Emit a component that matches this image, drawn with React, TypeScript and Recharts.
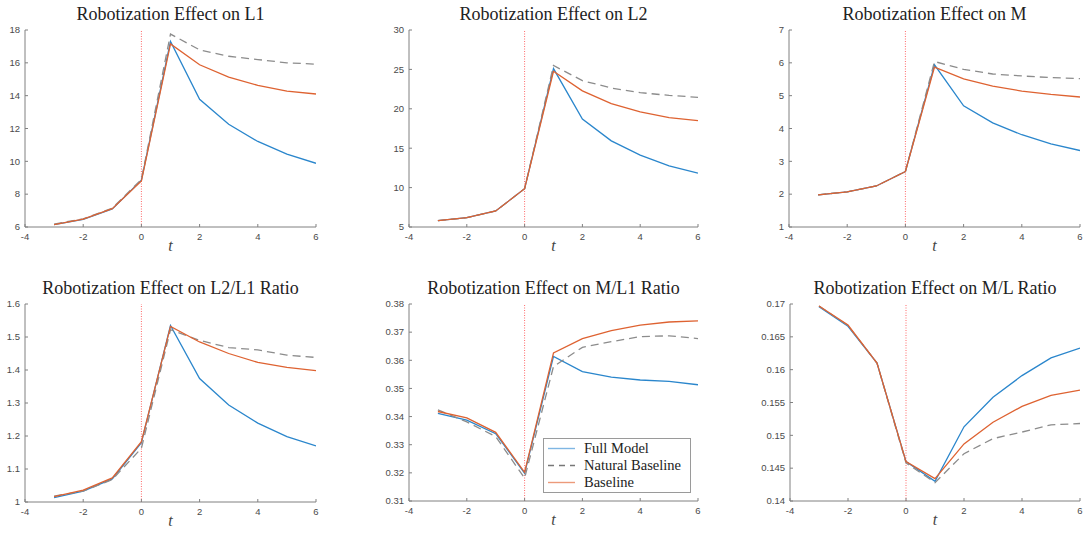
import React from 'react';
import { LineChart, Line, XAxis, YAxis, ReferenceLine, Legend } from 'recharts';

// horizon (periods relative to the shock)
const tValues = [-3, -2, -1, 0, 1, 2, 3, 4, 5, 6];
const xTicks = [-4, -2, 0, 2, 4, 6];

const l1Full = [6.15, 6.47, 7.1, 8.85, 17.3, 13.78, 12.26, 11.21, 10.44, 9.88];
const l1Natural = [6.18, 6.5, 7.15, 8.9, 17.75, 16.79, 16.4, 16.2, 16.0, 15.92];
const l1Baseline = [6.15, 6.48, 7.12, 8.8, 17.15, 15.88, 15.13, 14.63, 14.28, 14.1];
const l1Ticks = [6, 8, 10, 12, 14, 16, 18];

const l2Full = [5.8, 6.18, 7.03, 9.86, 25.1, 18.7, 15.93, 14.12, 12.77, 11.84];
const l2Natural = [5.8, 6.18, 7.03, 9.86, 25.5, 23.57, 22.64, 22.05, 21.7, 21.46];
const l2Baseline = [5.8, 6.18, 7.03, 9.86, 24.76, 22.27, 20.66, 19.6, 18.89, 18.5];
const l2Ticks = [5, 10, 15, 20, 25, 30];

const mFull = [1.98, 2.07, 2.25, 2.69, 5.94, 4.69, 4.17, 3.81, 3.53, 3.33];
const mNatural = [1.98, 2.07, 2.25, 2.69, 6.04, 5.8, 5.66, 5.6, 5.55, 5.52];
const mBaseline = [1.98, 2.07, 2.25, 2.69, 5.87, 5.51, 5.29, 5.14, 5.04, 4.96];
const mTicks = [1, 2, 3, 4, 5, 6, 7];

const l2l1Full = [1.013, 1.033, 1.07, 1.18, 1.535, 1.374, 1.294, 1.239, 1.198, 1.17];
const l2l1Natural = [1.018, 1.033, 1.068, 1.163, 1.522, 1.49, 1.468, 1.461, 1.445, 1.438];
const l2l1Baseline = [1.016, 1.036, 1.073, 1.183, 1.532, 1.485, 1.45, 1.423, 1.408, 1.398];
const l2l1Ticks = [1, 1.1, 1.2, 1.3, 1.4, 1.5, 1.6];

const ml1Full = [0.3411, 0.3387, 0.3339, 0.3199, 0.3614, 0.356, 0.354, 0.353, 0.3525, 0.3513];
const ml1Natural = [0.3424, 0.3381, 0.3329, 0.3181, 0.3578, 0.3646, 0.3666, 0.3684, 0.3687, 0.3677];
const ml1Baseline = [0.3418, 0.3395, 0.3344, 0.3202, 0.3626, 0.3677, 0.3705, 0.3725, 0.3736, 0.374];
const ml1Ticks = [0.31, 0.32, 0.33, 0.34, 0.35, 0.36, 0.37, 0.38];

const mlFull = [0.1696, 0.1666, 0.161, 0.146, 0.143, 0.1513, 0.1558, 0.1591, 0.1618, 0.1633];
const mlNatural = [0.1697, 0.1667, 0.161, 0.1458, 0.1428, 0.1472, 0.1495, 0.1505, 0.1516, 0.1518];
const mlBaseline = [0.1697, 0.1668, 0.161, 0.146, 0.1434, 0.1487, 0.152, 0.1544, 0.1561, 0.1569];
const mlTicks = [0.14, 0.145, 0.15, 0.155, 0.16, 0.165, 0.17];

const titles = [
  'Robotization Effect on L1',
  'Robotization Effect on L2',
  'Robotization Effect on M',
  'Robotization Effect on L2/L1 Ratio',
  'Robotization Effect on M/L1 Ratio',
  'Robotization Effect on M/L Ratio',
];
const seriesNames = ['Full Model', 'Natural Baseline', 'Baseline'];

const BLUE = '#2a86cc';
const ORANGE = '#de6231';
const GRAY = '#8c8c8c';
const AXIS = '#808080';
const TICK_TEXT = '#4a4a4a';
const SANS = '"Liberation Sans", Arial, sans-serif';
const SERIF = '"Liberation Serif", "Times New Roman", serif';
const Y_AXIS_W = 40;

// plot-area boxes in page pixels
const boxes = [
  { x: 25, y: 30, w: 291, h: 197 },
  { x: 409, y: 30, w: 289, h: 197 },
  { x: 789, y: 30, w: 291, h: 197 },
  { x: 25, y: 304, w: 291, h: 198 },
  { x: 409, y: 304, w: 289, h: 197 },
  { x: 790, y: 304, w: 290, h: 197 },
];

const panelData = [
  { full: l1Full, natural: l1Natural, baseline: l1Baseline, ticks: l1Ticks },
  { full: l2Full, natural: l2Natural, baseline: l2Baseline, ticks: l2Ticks },
  { full: mFull, natural: mNatural, baseline: mBaseline, ticks: mTicks },
  { full: l2l1Full, natural: l2l1Natural, baseline: l2l1Baseline, ticks: l2l1Ticks },
  { full: ml1Full, natural: ml1Natural, baseline: ml1Baseline, ticks: ml1Ticks },
  { full: mlFull, natural: mlNatural, baseline: mlBaseline, ticks: mlTicks },
];

const YTick = (props: any) => {
  const { x, y, payload } = props;
  return (
    <g>
      <line x1={x + 5} x2={x + 8} y1={y} y2={y} stroke={AXIS} />
      <text x={x} y={y + 3.3} textAnchor="end" fontSize={9.5} fontFamily={SANS} fill={TICK_TEXT}>
        {payload.value}
      </text>
    </g>
  );
};

const XTick = (props: any) => {
  const { x, y, payload } = props;
  return (
    <g>
      <line x1={x} x2={x} y1={y - 4} y2={y - 7} stroke={AXIS} />
      <text x={x} y={y + 9.3} textAnchor="middle" fontSize={9.5} fontFamily={SANS} fill={TICK_TEXT}>
        {payload.value}
      </text>
    </g>
  );
};

const LegendBox = () => {
  const rows = [
    { name: seriesNames[0], color: '#7fb6e3', dash: undefined },
    { name: seriesNames[1], color: '#777', dash: '6 5' },
    { name: seriesNames[2], color: '#ec9a7a', dash: undefined },
  ];
  return (
    <div style={{ position: 'relative', width: 148, height: 55, border: '1px solid #9a9a9a', background: '#fff', boxSizing: 'border-box' }}>
      {rows.map((r, i) => (
        <div key={r.name} style={{ position: 'absolute', left: 0, top: 1 + i * 17, height: 17, display: 'flex', alignItems: 'center' }}>
          <svg width={40} height={17} style={{ display: 'block' }}>
            <line x1={4} x2={31} y1={8.5} y2={8.5} stroke={r.color} strokeWidth={1.4} strokeDasharray={r.dash} />
          </svg>
          <span style={{ fontFamily: SERIF, fontSize: 14.5, color: '#222', lineHeight: '17px' }}>{r.name}</span>
        </div>
      ))}
    </div>
  );
};

const Panel = ({ index }: { index: number }) => {
  const box = boxes[index];
  const d = panelData[index];
  const rows = tValues.map((t, i) => ({ t, full: d.full[i], natural: d.natural[i], baseline: d.baseline[i] }));
  const top = 10;
  const right = 12;
  const xAxisH = 30;
  const width = Y_AXIS_W + box.w + right;
  const height = top + box.h + xAxisH;
  return (
    <>
      <div style={{ position: 'absolute', left: box.x, width: box.w, top: box.y - 26, height: 20, lineHeight: '20px', textAlign: 'center', fontFamily: SERIF, fontSize: 18, color: '#222', whiteSpace: 'nowrap' }}>
        {titles[index]}
      </div>
      <div style={{ position: 'absolute', left: box.x, width: box.w, top: box.y + box.h + 10, height: 18, lineHeight: '18px', textAlign: 'center', fontFamily: SERIF, fontStyle: 'italic', fontSize: 16, color: '#444' }}>
        t
      </div>
      <div style={{ position: 'absolute', left: box.x - Y_AXIS_W, top: box.y - top }}>
        <LineChart width={width} height={height} data={rows} margin={{ top, right, left: 0, bottom: 0 }}>
          <XAxis
            dataKey="t"
            type="number"
            domain={[-4, 6]}
            ticks={xTicks}
            height={xAxisH}
            tickSize={0}
            tickMargin={4}
            tickLine={false}
            axisLine={{ stroke: AXIS }}
            tick={<XTick />}
            allowDataOverflow
          />
          <YAxis
            type="number"
            domain={[d.ticks[0], d.ticks[d.ticks.length - 1]]}
            ticks={d.ticks}
            width={Y_AXIS_W}
            tickSize={0}
            tickMargin={5}
            tickLine={false}
            axisLine={{ stroke: AXIS }}
            tick={<YTick />}
            allowDataOverflow
          />
          <ReferenceLine x={0} stroke="#ff6a6a" strokeDasharray="1 1.5" strokeWidth={1} />
          <Line type="linear" dataKey="full" name={seriesNames[0]} stroke={BLUE} strokeWidth={1.3} dot={false} isAnimationActive={false} />
          <Line type="linear" dataKey="natural" name={seriesNames[1]} stroke={GRAY} strokeWidth={1.3} strokeDasharray="8 5" dot={false} isAnimationActive={false} />
          <Line type="linear" dataKey="baseline" name={seriesNames[2]} stroke={ORANGE} strokeWidth={1.3} dot={false} isAnimationActive={false} />
          {index === 4 && (
            <Legend
              layout="horizontal"
              verticalAlign="middle"
              align="center"
              content={() => <LegendBox />}
              wrapperStyle={{ left: 543 - (box.x - Y_AXIS_W), top: 438 - (box.y - top), width: 148 }}
            />
          )}
        </LineChart>
      </div>
    </>
  );
}

export default function App() {
  return (
    <div style={{ position: 'absolute', left: 0, top: 0, width: 1084, height: 534, background: '#fff', overflow: 'hidden' }}>
      {boxes.map((_, i) => (
        <Panel key={i} index={i} />
      ))}
    </div>
  );
}
